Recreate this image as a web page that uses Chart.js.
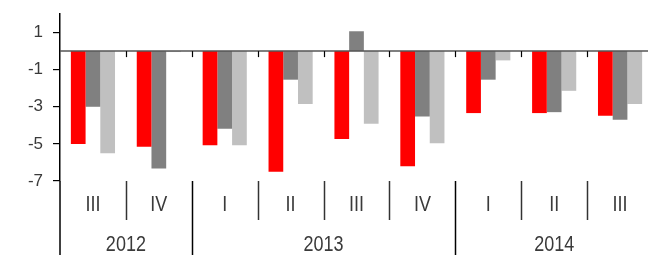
<!DOCTYPE html>
<html>
<head>
<meta charset="utf-8">
<script src="https://cdn.jsdelivr.net/npm/chart.js@4/dist/chart.umd.min.js"></script>
<style>
  html, body { margin: 0; padding: 0; background: #fff; overflow: hidden; }
  #wrap { width: 660px; height: 255px; }
</style>
</head>
<body>
<div id="wrap"><canvas id="chart" width="660" height="255"></canvas></div>
<script>
// Dữ liệu
const quarters = ['III', 'IV', 'I', 'II', 'III', 'IV', 'I', 'II', 'III'];
const years = ['2012', '2013', '2014'];
const yearSpans = [2, 4, 3];
const seriesRed = [-5.0, -5.15, -5.07, -6.5, -4.73, -6.2, -3.34, -3.34, -3.49];
const seriesDark = [-3.0, -6.33, -4.19, -1.54, 1.07, -3.52, -1.54, -3.29, -3.7];
const seriesLight = [-5.5, -0.05, -5.07, -2.85, -3.92, -4.96, -0.5, -2.14, -2.85];
const yTicks = [1, -1, -3, -5, -7];

const FONT = "'Liberation Sans', Arial, sans-serif";
const TEXT_COLOR = '#3a3a3a';

// vẽ chữ hơi kéo dãn theo chiều dọc như ảnh gốc
function stretchedText(ctx, txt, cx, cy) {
    ctx.save();
    ctx.translate(cx, cy);
    ctx.scale(1, 1.25);
    ctx.fillText(txt, 0, 0);
    ctx.restore();
}

// Plugin vẽ trục x tự làm (đường 0, vạch chia, nhãn quý và năm)
const axisPlugin = {
    id: 'axisPlugin',
    afterDatasetsDraw(chart) {
        const ctx = chart.ctx;
        const x = chart.scales.x;
        const y = chart.scales.y;
        const area = chart.chartArea;
        const y0 = y.getPixelForValue(0);
        const n = quarters.length;
        const step = (x.getPixelForValue(1) - x.getPixelForValue(0));
        const edge = i => x.getPixelForValue(0) - step / 2 + i * step;

        ctx.save();
        // đường 0
        ctx.strokeStyle = '#555';
        ctx.lineWidth = 1.5;
        ctx.beginPath();
        ctx.moveTo(area.left, y0);
        ctx.lineTo(chart.width, y0);
        ctx.stroke();

        // vạch nhỏ trên đường 0
        ctx.strokeStyle = '#000';
        ctx.lineWidth = 1.2;
        for (let i = 1; i < n; i++) {
            const px = Math.round(edge(i)) + 0.5;
            ctx.beginPath();
            ctx.moveTo(px, y0);
            ctx.lineTo(px, y0 + 6);
            ctx.stroke();
        }

        // phần kéo dài của trục y
        ctx.lineWidth = 1.5;
        ctx.beginPath();
        ctx.moveTo(area.left, area.bottom);
        ctx.lineTo(area.left, chart.height);
        ctx.stroke();

        // vạch chia quý và năm
        const yearEdges = [];
        let acc = 0;
        yearSpans.forEach(s => { acc += s; yearEdges.push(acc); });
        for (let i = 1; i < n; i++) {
            const px = Math.round(edge(i)) + 0.5;
            const isYear = yearEdges.includes(i);
            ctx.strokeStyle = isYear ? '#000' : '#333';
            ctx.beginPath();
            ctx.moveTo(px, area.bottom);
            ctx.lineTo(px, isYear ? chart.height : area.bottom + 39);
            ctx.stroke();
        }

        // nhãn
        ctx.fillStyle = TEXT_COLOR;
        ctx.textAlign = 'center';
        ctx.textBaseline = 'middle';
        ctx.font = '18px ' + FONT;
        quarters.forEach((q, i) => {
            stretchedText(ctx, q, x.getPixelForValue(i), 205);
        });
        let start = 0;
        years.forEach((yr, j) => {
            const cx = (edge(start) + edge(start + yearSpans[j])) / 2;
            stretchedText(ctx, yr, cx, 244.5);
            start += yearSpans[j];
        });
        ctx.restore();
    }
};

new Chart(document.getElementById('chart').getContext('2d'), {
    type: 'bar',
    data: {
        labels: quarters,
        datasets: [
            { label: 'Series 1', data: seriesRed, backgroundColor: '#ff0000' },
            { label: 'Series 2', data: seriesDark, backgroundColor: '#808080' },
            { label: 'Series 3', data: seriesLight, backgroundColor: '#c0c0c0' }
        ]
    },
    options: {
        responsive: false,
        animation: false,
        devicePixelRatio: 1,
        layout: { padding: { top: 14, right: 7, bottom: 74, left: 0 } },
        datasets: { bar: { categoryPercentage: 0.67, barPercentage: 1.0 } },
        plugins: { legend: { display: false }, tooltip: { enabled: false } },
        scales: {
            x: { display: false, offset: true },
            y: {
                min: -7,
                max: 2,
                afterBuildTicks: scale => { scale.ticks = yTicks.map(v => ({ value: v })); },
                afterFit: scale => {
                    scale.width = 60;
                    scale.paddingTop = 0;
                    scale.paddingBottom = 0;
                },
                grid: { drawOnChartArea: false, tickLength: 7, color: '#000', lineWidth: 1.2 },
                border: { color: '#000', width: 1.5 },
                ticks: { padding: 10, color: TEXT_COLOR, font: { family: FONT, size: 17 } }
            }
        }
    },
    plugins: [axisPlugin]
});
</script>
</body>
</html>
